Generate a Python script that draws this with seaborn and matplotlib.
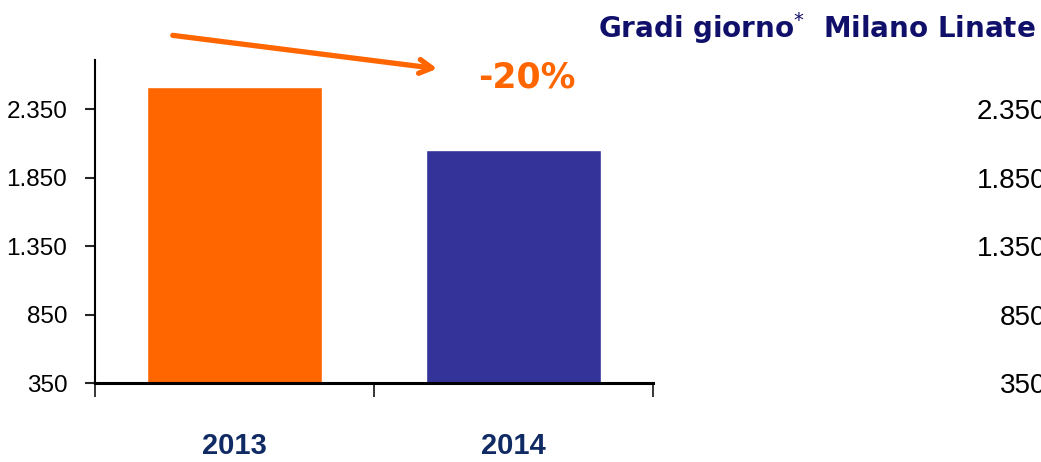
import numpy as np
import seaborn as sns
import matplotlib.pyplot as plt
from matplotlib.ticker import FuncFormatter

years = ["2013", "2014"]
gradi_giorno = [2510, 2050]
bar_colors = ["#FF6600", "#333399"]
y_ticks = [350, 850, 1350, 1850, 2350]
change_label = "-20%"
title = "Gradi giorno$^{*}$  Milano Linate"

orange = "#FF6600"
navy = "#10106B"
label_navy = "#102A63"
tick_font = ['Liberation Sans', 'DejaVu Sans']


def it_format(v, pos):
    # italian thousands separator
    return f"{int(v):,}".replace(",", ".")


sns.set_style("white")
plt.rcParams['font.family'] = ['DejaVu Sans']

fig = plt.figure(figsize=(10.41, 4.62), dpi=100)
ax = fig.add_axes([95 / 1041, 1 - 383 / 462, 558 / 1041, 323 / 462])

sns.barplot(x=years, y=gradi_giorno, hue=years, palette=bar_colors,
            width=0.63, legend=False, ax=ax, saturation=1)

ax.set_ylim(350, 2708)
ax.set_xlim(-0.5, 1.5)
ax.set_yticks(y_ticks)
ax.yaxis.set_major_formatter(FuncFormatter(it_format))
ax.tick_params(axis="y", direction="out", length=7, width=1.5, pad=13, left=True)
for lbl in ax.get_yticklabels():
    lbl.set_family(tick_font)
    lbl.set_fontsize(17.5)
    lbl.set_color("black")
ax.set_xticks([-0.5, 0.5, 1.5])
ax.set_xticklabels([])
ax.tick_params(axis="x", which="major", direction="out", length=10, width=1.3, bottom=True)
ax.set_xticks([0, 1], minor=True)
ax.set_xticklabels(years, minor=True, fontsize=21, fontweight="bold",
                   color=label_navy, family=tick_font)
ax.tick_params(axis="x", which="minor", length=0, pad=35)
ax.set_xlabel("")
ax.set_ylabel("")
for s in ["top", "right"]:
    ax.spines[s].set_visible(False)
ax.spines["left"].set_linewidth(1.5)
ax.spines["bottom"].set_linewidth(2.2)
ax.spines["left"].set_color("black")
ax.spines["bottom"].set_color("black")

# arrow showing the decrease
ax.annotate("", xy=(440 / 1041, 1 - 69 / 462), xycoords="figure fraction",
            xytext=(170 / 1041, 1 - 35 / 462), textcoords="figure fraction",
            arrowprops=dict(arrowstyle="->,head_length=0.9,head_width=0.5",
                            color=orange, lw=3.8))
fig.text(527 / 1041, 1 - 77 / 462, change_label, color=orange, fontsize=25,
         fontweight="bold", ha="center", va="center")

fig.text(1036 / 1041, 1 - 28 / 462, title, color=navy, fontsize=20,
         fontweight="bold", ha="right", va="center")

# second panel, mostly outside the picture
ax2 = fig.add_axes([1052 / 1041, 1 - 383 / 462, 0.3, 323 / 462])
ax2.set_ylim(350, 2708)
ax2.set_yticks(y_ticks)
ax2.yaxis.set_major_formatter(FuncFormatter(it_format))
ax2.tick_params(axis="y", length=0, pad=4)
for lbl in ax2.get_yticklabels():
    lbl.set_family(tick_font)
    lbl.set_fontsize(20)
    lbl.set_color("black")
ax2.set_xticks([])
for s in ax2.spines.values():
    s.set_visible(False)

fig.savefig("out.png", dpi=100)
